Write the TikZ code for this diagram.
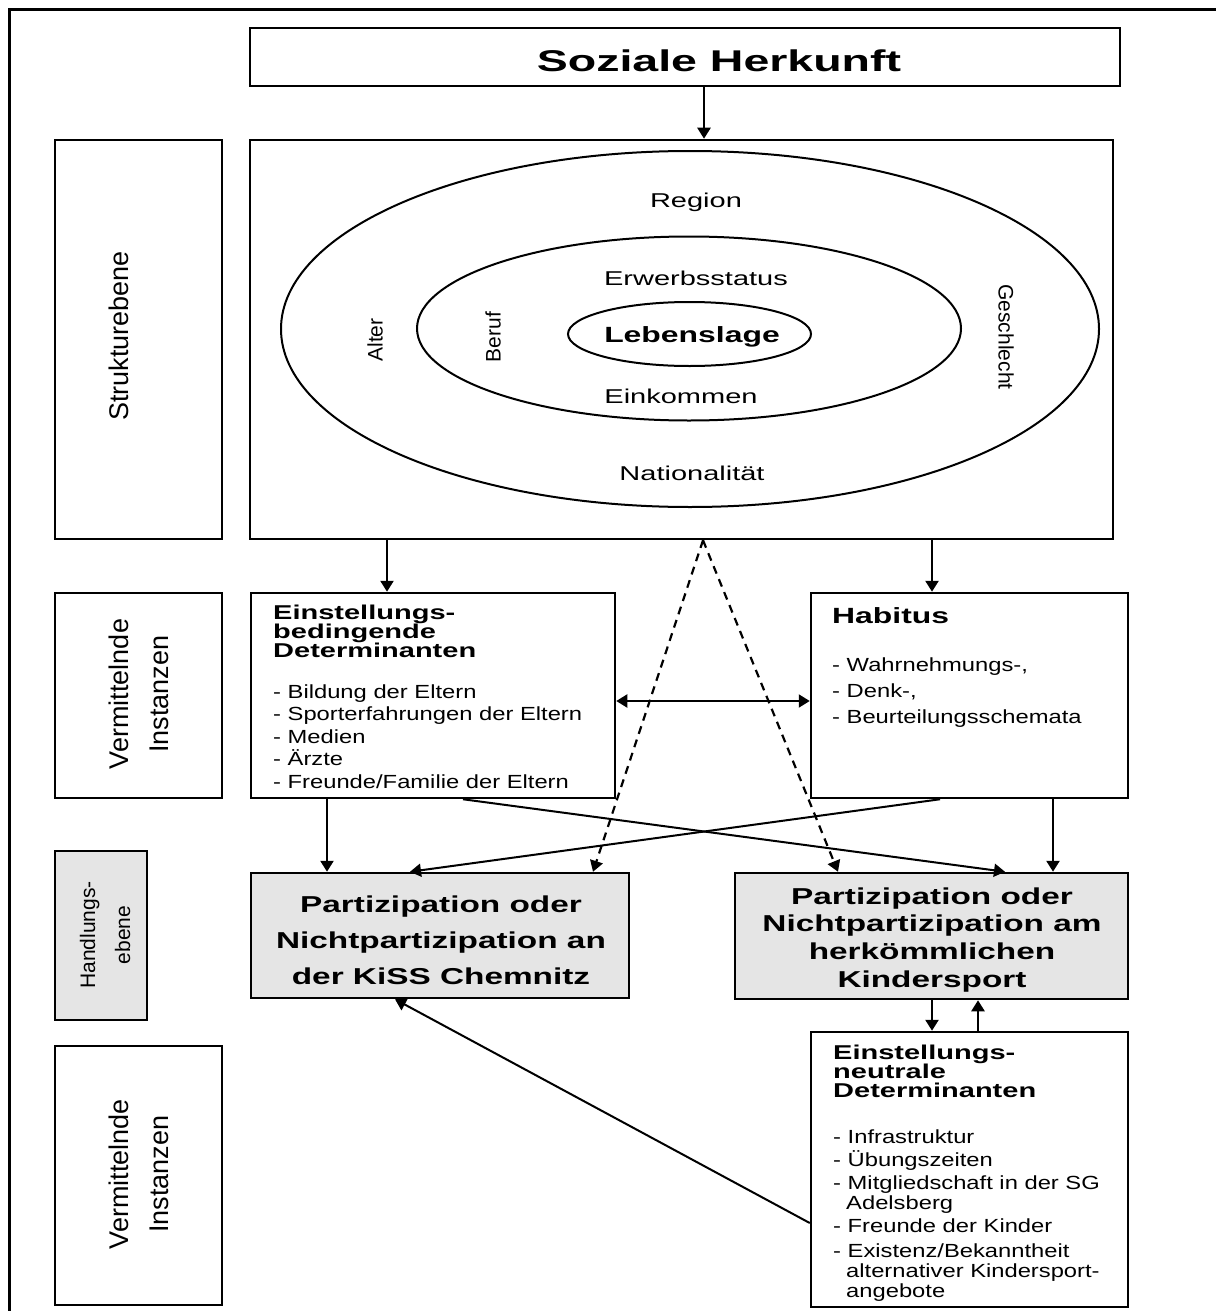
\documentclass[tikz,border=0pt]{standalone}
\usepackage{fontspec}
\setmainfont{Liberation Sans}
\newfontfamily\titlefont[FakeStretch=1.55]{Liberation Sans}
\newfontfamily\ovalfont[FakeStretch=1.45]{Liberation Sans}
\newfontfamily\headfont[FakeStretch=1.45]{Liberation Sans}
\newfontfamily\listfont[FakeStretch=1.25]{Liberation Sans}
\usetikzlibrary{arrows.meta,positioning}
\setlength{\lineskiplimit}{-100pt}

\begin{document}
\begin{tikzpicture}[x=1pt,y=-1pt,
    box/.style={draw,line width=2.5pt,inner sep=0pt},
    greybox/.style={box,fill=black!10},
    oval/.style={line width=2pt},
    side/.style={rotate=90,align=center,inner sep=0pt,font=\fontsize{27}{40}\selectfont},
    ovaltext/.style={anchor=base,inner sep=0pt,font=\ovalfont\fontsize{20}{24}\selectfont},
    head/.style={anchor=base west,align=left,inner sep=0pt,font=\headfont\bfseries\fontsize{20}{19}\selectfont},
    items/.style={anchor=base west,align=left,inner sep=0pt,font=\listfont\fontsize{19}{22.5}\selectfont},
    part/.style={anchor=base,align=center,inner sep=0pt,font=\headfont\bfseries\fontsize{23}{36}\selectfont},
    arr/.style={line width=2.5pt,-{Triangle[length=11pt,width=13pt]}},
    thinarr/.style={line width=2pt,-{Triangle[length=11pt,width=13pt]}},
    twoway/.style={line width=2pt,{Triangle[length=11pt,width=13pt]}-{Triangle[length=11pt,width=13pt]}},
    dasharr/.style={line width=2.2pt,dash pattern=on 8pt off 6pt,-{Triangle[length=11pt,width=13pt]}}]
  \useasboundingbox (0,0) rectangle (1216,1311);
  \draw[line width=3pt] (9.5,1311) -- (9.5,10) -- (1216,10);

  % Kopf
  \node[box,minimum width=870pt,minimum height=58pt] (herkunft) at (685,57) {};
  \node[anchor=base,inner sep=0pt,font=\titlefont\bfseries\fontsize{30}{36}\selectfont] (herkunfttxt) at (719,72) {Soziale Herkunft};

  % Strukturebene
  \node[box,minimum width=167pt,minimum height=399pt] (struktur) at (138.5,339.5) {};
  \node[side] (strukturtxt) at (118.6,336) {Strukturebene};
  \node[box,minimum width=863pt,minimum height=399pt] (lage) at (681.5,339.5) {};
  \draw[oval] (690,329) ellipse [x radius=409pt, y radius=178pt];
  \draw[oval] (689,328.5) ellipse [x radius=272pt, y radius=92pt];
  \draw[oval] (689.5,334) ellipse [x radius=121.5pt, y radius=32pt];
  \node[ovaltext] (region) at (696,207) {Region};
  \node[ovaltext] (erwerb) at (696,285) {Erwerbsstatus};
  \node[ovaltext,font=\ovalfont\bfseries\fontsize{22}{26}\selectfont] (lebenslage) at (692,342) {Lebenslage};
  \node[ovaltext] (einkommen) at (681,403) {Einkommen};
  \node[ovaltext] (nation) at (692,480) {Nationalität};
  \node[side,font=\fontsize{21}{24}\selectfont] (alter) at (375,340) {Alter};
  \node[side,font=\fontsize{21}{24}\selectfont] (beruf) at (493,337) {Beruf};
  \node[side,rotate=180,font=\fontsize{21}{24}\selectfont] (geschlecht) at (1006,337) {Geschlecht};

  % Vermittelnde Instanzen
  \node[box,minimum width=167pt,minimum height=205pt] (verm) at (138.5,695.5) {};
  \node[side] (vermtxt) at (138.5,694) {Vermittelnde\\Instanzen};
  \node[box,minimum width=364pt,minimum height=205pt] (einst) at (433,695.5) {};
  \node[head] (einsthead) at (273,657) {Einstellungs-\\bedingende\\Determinanten};
  \node[items] (einstlist) at (273,788) {- Bildung der Eltern\\- Sporterfahrungen der Eltern\\- Medien\\- Ärzte\\- Freunde/Familie der Eltern};
  \node[box,minimum width=317pt,minimum height=205pt] (habitus) at (969.5,695.5) {};
  \node[head,font=\headfont\bfseries\fontsize{22}{26}\selectfont] (habitushead) at (832,623) {Habitus};
  \node[items,font=\listfont\fontsize{19}{26}\selectfont] (habituslist) at (832,723) {- Wahrnehmungs-,\\- Denk-,\\- Beurteilungsschemata};

  % Handlungsebene
  \node[greybox,minimum width=92pt,minimum height=169pt] (handl) at (101,935.5) {};
  \node[side,font=\fontsize{21}{35}\selectfont] (handltxt) at (105,935) {Handlungs-\\ebene};
  \node[greybox,minimum width=378pt,minimum height=125pt] (kiss) at (440,935.5) {};
  \node[part] (kisstxt) at (441,984) {Partizipation oder\\Nichtpartizipation an\\der KiSS Chemnitz};
  \node[greybox,minimum width=393pt,minimum height=126pt] (sport) at (931.5,936) {};
  \node[part,font=\headfont\bfseries\fontsize{23}{27.6}\selectfont] (sporttxt) at (932,987) {Partizipation oder\\Nichtpartizipation am\\herkömmlichen\\Kindersport};

  % untere Vermittelnde Instanzen
  \node[box,minimum width=167pt,minimum height=259pt] (verm2) at (138.5,1175.5) {};
  \node[side] (verm2txt) at (138.5,1174) {Vermittelnde\\Instanzen};
  \node[box,minimum width=317pt,minimum height=275pt] (neutral) at (969.5,1169.5) {};
  \node[head] (neutralhead) at (833,1097) {Einstellungs-\\neutrale\\Determinanten};
  \node[items,font=\listfont\fontsize{19}{20}\selectfont] (neutrallist) at (833,1297) {- Infrastruktur\\[3pt]- Übungszeiten\\[3pt]- Mitgliedschaft in der SG\\\hspace*{13pt}Adelsberg\\[3pt]- Freunde der Kinder\\[5pt]- Existenz/Bekanntheit\\\hspace*{13pt}alternativer Kindersport-\\\hspace*{13pt}angebote};

  % Pfeile
  \draw[arr] ([xshift=19pt]herkunft.south) -- ([xshift=19pt]herkunft.south |- lage.north);
  \draw[arr] ([xshift=-46pt]einst.north |- lage.south) -- ([xshift=-46pt]einst.north);
  \draw[arr] ([xshift=-37.5pt]habitus.north |- lage.south) -- ([xshift=-37.5pt]habitus.north);
  \draw[twoway] ([yshift=-5.5pt]einst.east) -- ([yshift=-5.5pt]habitus.west);
  \coordinate (apex) at ([xshift=21.5pt]lage.south);
  \draw[dasharr] (apex) -- ([xshift=153pt]kiss.north);
  \draw[dasharr] (apex) -- ([xshift=-93.5pt]sport.north);
  \draw[arr] ([xshift=-106pt]einst.south) -- ([xshift=-106pt]einst.south |- kiss.north);
  \draw[arr] ([xshift=83.5pt]habitus.south) -- ([xshift=83.5pt]habitus.south |- sport.north);
  \draw[thinarr] ([xshift=30pt]einst.south) -- ([xshift=73.5pt]sport.north);
  \draw[thinarr] ([xshift=-29.5pt]habitus.south) -- ([xshift=-30pt]kiss.north);
  \draw[arr] ([xshift=0.5pt]sport.south) -- ([xshift=0.5pt]sport.south |- neutral.north);
  \draw[arr] ([xshift=46.5pt]sport.south |- neutral.north) -- ([xshift=46.5pt]sport.south);
  \draw[thinarr] ([yshift=-53.5pt]neutral.west) -- ([xshift=-45pt]kiss.south);
\end{tikzpicture}
\end{document}
